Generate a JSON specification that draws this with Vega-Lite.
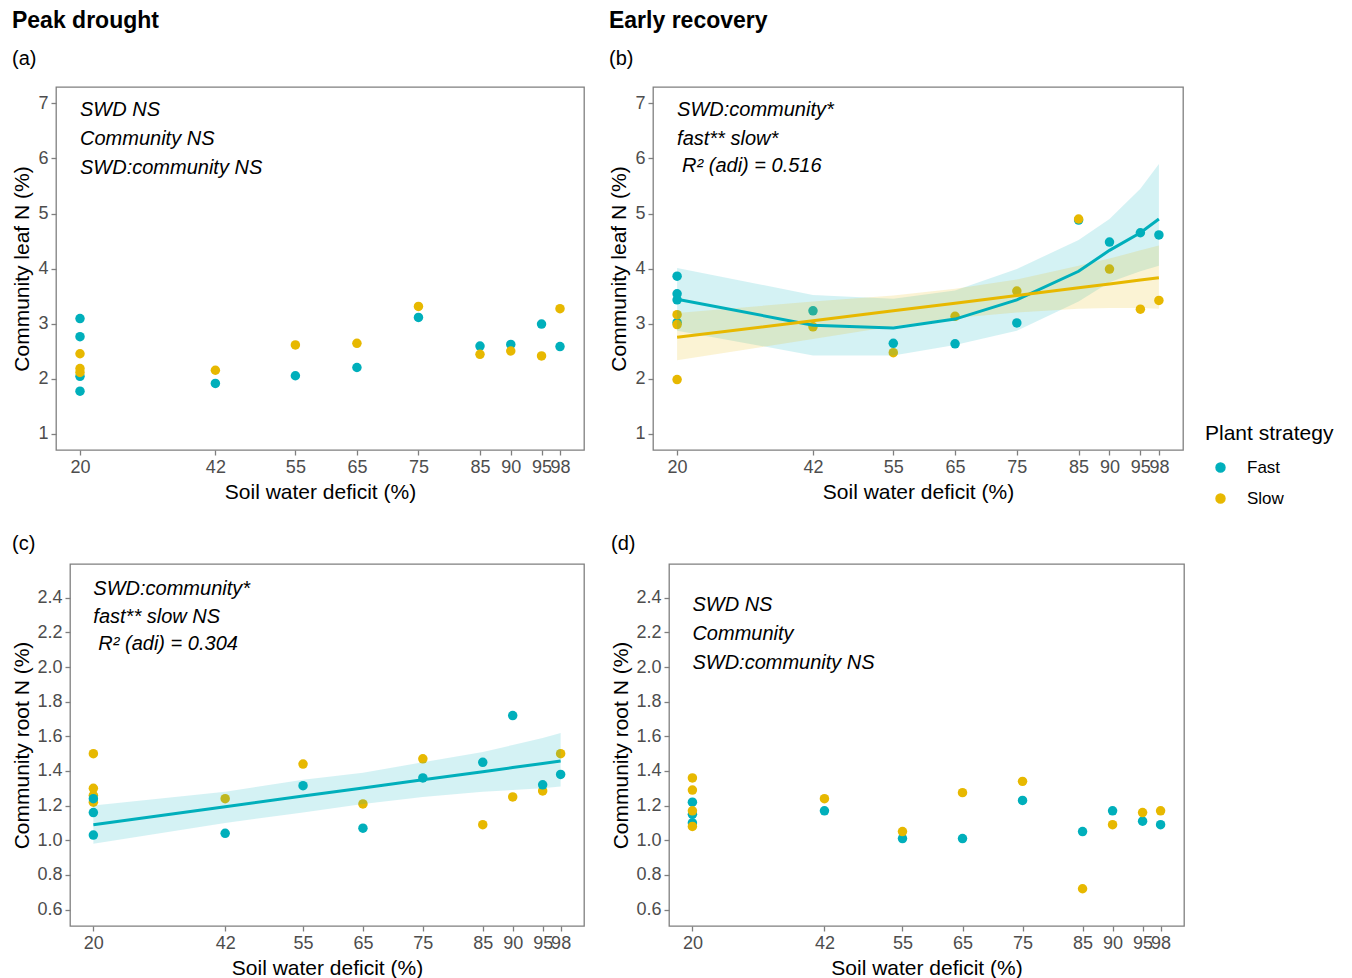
{
  "$schema": "https://vega.github.io/schema/vega-lite/v6.json",
  "background": "white",
  "padding": {"left": 10, "top": 9, "right": 4, "bottom": 0},
  "config": {
    "font": "Liberation Sans",
    "view": {"stroke": "#7f7f7f", "strokeWidth": 1.3},
    "axis": {
      "grid": false,
      "domain": false,
      "tickColor": "#7f7f7f",
      "tickSize": 5,
      "tickWidth": 1.3,
      "labelColor": "#4d4d4d",
      "labelFont": "Liberation Sans",
      "labelFontSize": 18,
      "labelPadding": 3,
      "labelOverlap": false,
      "labelBound": false,
      "labelFlush": false,
      "titleColor": "black",
      "titleFont": "Liberation Sans",
      "titleFontSize": 21,
      "titleFontWeight": "normal"
    },
    "axisX": {"titlePadding": 5},
    "axisY": {"titlePadding": 6},
    "title": {
      "anchor": "start",
      "frame": "bounds",
      "font": "Liberation Sans",
      "fontSize": 23,
      "fontWeight": "bold",
      "color": "black",
      "subtitleFont": "Liberation Sans",
      "subtitleFontSize": 20,
      "subtitleColor": "black",
      "subtitlePadding": 16,
      "offset": 18
    },
    "legend": {
      "titleFont": "Liberation Sans",
      "titleFontSize": 21,
      "titleFontWeight": "normal",
      "titleColor": "black",
      "labelFont": "Liberation Sans",
      "labelFontSize": 17,
      "labelColor": "black",
      "symbolSize": 80,
      "symbolType": "circle",
      "symbolOffset": 7,
      "rowPadding": 13,
      "titlePadding": 15,
      "labelOffset": 18
    }
  },
  "datasets": {
    "pts": [
      {"panel": "a", "strategy": "Fast", "swd": 20, "n": 3.09},
      {"panel": "a", "strategy": "Fast", "swd": 20, "n": 2.76},
      {"panel": "a", "strategy": "Fast", "swd": 20, "n": 2.04},
      {"panel": "a", "strategy": "Fast", "swd": 20, "n": 1.77},
      {"panel": "a", "strategy": "Fast", "swd": 42, "n": 1.91},
      {"panel": "a", "strategy": "Fast", "swd": 55, "n": 2.05},
      {"panel": "a", "strategy": "Fast", "swd": 65, "n": 2.2},
      {"panel": "a", "strategy": "Fast", "swd": 75, "n": 3.11},
      {"panel": "a", "strategy": "Fast", "swd": 85, "n": 2.59},
      {"panel": "a", "strategy": "Fast", "swd": 90, "n": 2.62},
      {"panel": "a", "strategy": "Fast", "swd": 95, "n": 2.99},
      {"panel": "a", "strategy": "Fast", "swd": 98, "n": 2.58},
      {"panel": "a", "strategy": "Slow", "swd": 20, "n": 2.45},
      {"panel": "a", "strategy": "Slow", "swd": 20, "n": 2.18},
      {"panel": "a", "strategy": "Slow", "swd": 20, "n": 2.11},
      {"panel": "a", "strategy": "Slow", "swd": 42, "n": 2.15},
      {"panel": "a", "strategy": "Slow", "swd": 55, "n": 2.61},
      {"panel": "a", "strategy": "Slow", "swd": 65, "n": 2.64},
      {"panel": "a", "strategy": "Slow", "swd": 75, "n": 3.31},
      {"panel": "a", "strategy": "Slow", "swd": 85, "n": 2.44},
      {"panel": "a", "strategy": "Slow", "swd": 90, "n": 2.5},
      {"panel": "a", "strategy": "Slow", "swd": 95, "n": 2.41},
      {"panel": "a", "strategy": "Slow", "swd": 98, "n": 3.27},

      {"panel": "b", "strategy": "Fast", "swd": 20, "n": 3.86},
      {"panel": "b", "strategy": "Fast", "swd": 20, "n": 3.54},
      {"panel": "b", "strategy": "Fast", "swd": 20, "n": 3.43},
      {"panel": "b", "strategy": "Fast", "swd": 20, "n": 3.02},
      {"panel": "b", "strategy": "Fast", "swd": 42, "n": 3.23},
      {"panel": "b", "strategy": "Fast", "swd": 55, "n": 2.64},
      {"panel": "b", "strategy": "Fast", "swd": 65, "n": 2.63},
      {"panel": "b", "strategy": "Fast", "swd": 75, "n": 3.01},
      {"panel": "b", "strategy": "Fast", "swd": 85, "n": 4.88},
      {"panel": "b", "strategy": "Fast", "swd": 90, "n": 4.48},
      {"panel": "b", "strategy": "Fast", "swd": 95, "n": 4.65},
      {"panel": "b", "strategy": "Fast", "swd": 98, "n": 4.61},
      {"panel": "b", "strategy": "Slow", "swd": 20, "n": 3.16},
      {"panel": "b", "strategy": "Slow", "swd": 20, "n": 2.98},
      {"panel": "b", "strategy": "Slow", "swd": 20, "n": 1.98},
      {"panel": "b", "strategy": "Slow", "swd": 42, "n": 2.94},
      {"panel": "b", "strategy": "Slow", "swd": 55, "n": 2.47},
      {"panel": "b", "strategy": "Slow", "swd": 65, "n": 3.13},
      {"panel": "b", "strategy": "Slow", "swd": 75, "n": 3.59},
      {"panel": "b", "strategy": "Slow", "swd": 85, "n": 4.9},
      {"panel": "b", "strategy": "Slow", "swd": 90, "n": 3.99},
      {"panel": "b", "strategy": "Slow", "swd": 95, "n": 3.26},
      {"panel": "b", "strategy": "Slow", "swd": 98, "n": 3.42},

      {"panel": "c", "strategy": "Slow", "swd": 20, "n": 1.5},
      {"panel": "c", "strategy": "Slow", "swd": 20, "n": 1.3},
      {"panel": "c", "strategy": "Slow", "swd": 20, "n": 1.26},
      {"panel": "c", "strategy": "Slow", "swd": 20, "n": 1.22},
      {"panel": "c", "strategy": "Slow", "swd": 42, "n": 1.24},
      {"panel": "c", "strategy": "Slow", "swd": 55, "n": 1.44},
      {"panel": "c", "strategy": "Slow", "swd": 65, "n": 1.21},
      {"panel": "c", "strategy": "Slow", "swd": 75, "n": 1.47},
      {"panel": "c", "strategy": "Slow", "swd": 85, "n": 1.09},
      {"panel": "c", "strategy": "Slow", "swd": 90, "n": 1.25},
      {"panel": "c", "strategy": "Slow", "swd": 95, "n": 1.285},
      {"panel": "c", "strategy": "Slow", "swd": 98, "n": 1.5},
      {"panel": "c", "strategy": "Fast", "swd": 20, "n": 1.24},
      {"panel": "c", "strategy": "Fast", "swd": 20, "n": 1.16},
      {"panel": "c", "strategy": "Fast", "swd": 20, "n": 1.03},
      {"panel": "c", "strategy": "Fast", "swd": 42, "n": 1.04},
      {"panel": "c", "strategy": "Fast", "swd": 55, "n": 1.315},
      {"panel": "c", "strategy": "Fast", "swd": 65, "n": 1.07},
      {"panel": "c", "strategy": "Fast", "swd": 75, "n": 1.36},
      {"panel": "c", "strategy": "Fast", "swd": 85, "n": 1.45},
      {"panel": "c", "strategy": "Fast", "swd": 90, "n": 1.72},
      {"panel": "c", "strategy": "Fast", "swd": 95, "n": 1.32},
      {"panel": "c", "strategy": "Fast", "swd": 98, "n": 1.38},

      {"panel": "d", "strategy": "Slow", "swd": 20, "n": 1.36},
      {"panel": "d", "strategy": "Slow", "swd": 20, "n": 1.29},
      {"panel": "d", "strategy": "Fast", "swd": 20, "n": 1.22},
      {"panel": "d", "strategy": "Fast", "swd": 20, "n": 1.15},
      {"panel": "d", "strategy": "Fast", "swd": 20, "n": 1.1},
      {"panel": "d", "strategy": "Slow", "swd": 20, "n": 1.17},
      {"panel": "d", "strategy": "Slow", "swd": 20, "n": 1.08},
      {"panel": "d", "strategy": "Fast", "swd": 42, "n": 1.17},
      {"panel": "d", "strategy": "Fast", "swd": 55, "n": 1.01},
      {"panel": "d", "strategy": "Fast", "swd": 65, "n": 1.01},
      {"panel": "d", "strategy": "Fast", "swd": 75, "n": 1.23},
      {"panel": "d", "strategy": "Fast", "swd": 85, "n": 1.05},
      {"panel": "d", "strategy": "Fast", "swd": 90, "n": 1.17},
      {"panel": "d", "strategy": "Fast", "swd": 95, "n": 1.11},
      {"panel": "d", "strategy": "Fast", "swd": 98, "n": 1.09},
      {"panel": "d", "strategy": "Slow", "swd": 42, "n": 1.24},
      {"panel": "d", "strategy": "Slow", "swd": 55, "n": 1.05},
      {"panel": "d", "strategy": "Slow", "swd": 65, "n": 1.275},
      {"panel": "d", "strategy": "Slow", "swd": 75, "n": 1.34},
      {"panel": "d", "strategy": "Slow", "swd": 85, "n": 0.72},
      {"panel": "d", "strategy": "Slow", "swd": 90, "n": 1.09},
      {"panel": "d", "strategy": "Slow", "swd": 95, "n": 1.16},
      {"panel": "d", "strategy": "Slow", "swd": 98, "n": 1.17}
    ],
    "fits": [
      {"panel": "b", "strategy": "Fast", "swd": 20, "fit": 3.44, "lo": 2.87, "hi": 4.01},
      {"panel": "b", "strategy": "Fast", "swd": 42, "fit": 2.97, "lo": 2.42, "hi": 3.52},
      {"panel": "b", "strategy": "Fast", "swd": 55, "fit": 2.92, "lo": 2.42, "hi": 3.45},
      {"panel": "b", "strategy": "Fast", "swd": 65, "fit": 3.08, "lo": 2.61, "hi": 3.6},
      {"panel": "b", "strategy": "Fast", "swd": 75, "fit": 3.43, "lo": 2.87, "hi": 3.99},
      {"panel": "b", "strategy": "Fast", "swd": 85, "fit": 3.95, "lo": 3.4, "hi": 4.52},
      {"panel": "b", "strategy": "Fast", "swd": 90, "fit": 4.33, "lo": 3.75, "hi": 4.9},
      {"panel": "b", "strategy": "Fast", "swd": 95, "fit": 4.65, "lo": 3.95, "hi": 5.45},
      {"panel": "b", "strategy": "Fast", "swd": 98, "fit": 4.9, "lo": 4.05, "hi": 5.9},
      {"panel": "b", "strategy": "Slow", "swd": 20, "fit": 2.75, "lo": 2.33, "hi": 3.19},
      {"panel": "b", "strategy": "Slow", "swd": 42, "fit": 3.05, "lo": 2.72, "hi": 3.4},
      {"panel": "b", "strategy": "Slow", "swd": 55, "fit": 3.23, "lo": 2.95, "hi": 3.51},
      {"panel": "b", "strategy": "Slow", "swd": 65, "fit": 3.37, "lo": 3.1, "hi": 3.63},
      {"panel": "b", "strategy": "Slow", "swd": 75, "fit": 3.51, "lo": 3.2, "hi": 3.8},
      {"panel": "b", "strategy": "Slow", "swd": 85, "fit": 3.65, "lo": 3.27, "hi": 4.05},
      {"panel": "b", "strategy": "Slow", "swd": 90, "fit": 3.72, "lo": 3.28, "hi": 4.18},
      {"panel": "b", "strategy": "Slow", "swd": 95, "fit": 3.79, "lo": 3.28, "hi": 4.33},
      {"panel": "b", "strategy": "Slow", "swd": 98, "fit": 3.83, "lo": 3.27, "hi": 4.42},
      {"panel": "c", "strategy": "Fast", "swd": 20, "fit": 1.09, "lo": 0.98, "hi": 1.2},
      {"panel": "c", "strategy": "Fast", "swd": 42, "fit": 1.193, "lo": 1.1, "hi": 1.28},
      {"panel": "c", "strategy": "Fast", "swd": 55, "fit": 1.255, "lo": 1.16, "hi": 1.35},
      {"panel": "c", "strategy": "Fast", "swd": 65, "fit": 1.302, "lo": 1.21, "hi": 1.39},
      {"panel": "c", "strategy": "Fast", "swd": 75, "fit": 1.349, "lo": 1.25, "hi": 1.45},
      {"panel": "c", "strategy": "Fast", "swd": 85, "fit": 1.396, "lo": 1.28, "hi": 1.51},
      {"panel": "c", "strategy": "Fast", "swd": 90, "fit": 1.42, "lo": 1.29, "hi": 1.55},
      {"panel": "c", "strategy": "Fast", "swd": 95, "fit": 1.443, "lo": 1.3, "hi": 1.59},
      {"panel": "c", "strategy": "Fast", "swd": 98, "fit": 1.457, "lo": 1.31, "hi": 1.62}
    ]
  },
  "spacing": 30,
  "vconcat": [
    {
      "spacing": 0,
      "hconcat": [
        {
          "width": 1, "height": 1,
          "view": {"stroke": null},
          "data": {"values": [{}]},
          "mark": {"type": "point", "size": 0, "opacity": 0}
        },
        {
          "spacing": 23,
          "hconcat": [
            {
              "width": 528,
              "height": 363,
              "title": {"text": "Peak drought", "subtitle": "(a)"},
              "layer": [
                {
                  "data": {"name": "pts"},
                  "transform": [{"filter": "datum.panel == 'a'"}],
                  "mark": {"type": "point", "filled": true, "opacity": 1, "size": 90},
                  "encoding": {
                    "x": {"field": "swd", "type": "quantitative", "title": "Soil water deficit (%)",
                          "scale": {"domain": [16.1, 101.9], "nice": false, "zero": false},
                          "axis": {"values": [20, 42, 55, 65, 75, 85, 90, 95, 98]}},
                    "y": {"field": "n", "type": "quantitative", "title": "Community leaf N (%)",
                          "scale": {"domain": [0.7, 7.3], "nice": false, "zero": false},
                          "axis": {"values": [1, 2, 3, 4, 5, 6, 7], "format": "d", "titlePadding": 5}},
                    "color": {"field": "strategy", "type": "nominal",
                              "scale": {"domain": ["Fast", "Slow"], "range": ["#00AFBB", "#E7B800"]},
                              "legend": {"title": "Plant strategy", "orient": "none", "legendX": 1195, "legendY": 336}}
                  }
                },
                {
                  "data": {"values": [{}]},
                  "mark": {"type": "text", "text": ["SWD NS", "Community NS", "SWD:community NS"],
                           "align": "left", "baseline": "alphabetic", "fontStyle": "italic",
                           "fontSize": 20, "lineHeight": 29, "color": "black"},
                  "encoding": {"x": {"datum": 20}, "y": {"datum": 6.77}}
                }
              ]
            },
            {
              "width": 530,
              "height": 363,
              "title": {"text": "Early recovery", "subtitle": "(b)"},
              "layer": [
                {
                  "data": {"name": "pts"},
                  "transform": [{"filter": "datum.panel == 'b'"}],
                  "mark": {"type": "point", "filled": true, "opacity": 1, "size": 90},
                  "encoding": {
                    "x": {"field": "swd", "type": "quantitative", "title": "Soil water deficit (%)",
                          "scale": {"domain": [16.1, 101.9], "nice": false, "zero": false},
                          "axis": {"values": [20, 42, 55, 65, 75, 85, 90, 95, 98]}},
                    "y": {"field": "n", "type": "quantitative", "title": "Community leaf N (%)",
                          "scale": {"domain": [0.7, 7.3], "nice": false, "zero": false},
                          "axis": {"values": [1, 2, 3, 4, 5, 6, 7], "format": "d", "titlePadding": 5}},
                    "color": {"field": "strategy", "type": "nominal"}
                  }
                },
                {
                  "data": {"name": "fits"},
                  "transform": [{"filter": "datum.panel == 'b'"}],
                  "mark": {"type": "area", "opacity": 0.17},
                  "encoding": {
                    "x": {"field": "swd", "type": "quantitative"},
                    "y": {"field": "lo", "type": "quantitative", "stack": null},
                    "y2": {"field": "hi"},
                    "color": {"field": "strategy", "type": "nominal", "legend": null}
                  }
                },
                {
                  "data": {"name": "fits"},
                  "transform": [{"filter": "datum.panel == 'b'"}],
                  "mark": {"type": "line", "strokeWidth": 3},
                  "encoding": {
                    "x": {"field": "swd", "type": "quantitative"},
                    "y": {"field": "fit", "type": "quantitative"},
                    "color": {"field": "strategy", "type": "nominal", "legend": null}
                  }
                },
                {
                  "data": {"values": [{}]},
                  "mark": {"type": "text", "text": ["SWD:community*", "fast** slow*"],
                           "align": "left", "baseline": "alphabetic", "fontStyle": "italic",
                           "fontSize": 20, "lineHeight": 29, "color": "black"},
                  "encoding": {"x": {"datum": 20}, "y": {"datum": 6.78}}
                },
                {
                  "data": {"values": [{}]},
                  "mark": {"type": "text", "text": "R\u00b2 (adi) = 0.516", "dx": 5,
                           "align": "left", "baseline": "alphabetic", "fontStyle": "italic",
                           "fontSize": 20, "color": "black"},
                  "encoding": {"x": {"datum": 20}, "y": {"datum": 5.75}}
                }
              ]
            }
          ]
        }
      ]
    },
    {
      "spacing": 0,
      "hconcat": [
        {
          "width": 1, "height": 1,
          "view": {"stroke": null},
          "data": {"values": [{}]},
          "mark": {"type": "point", "size": 0, "opacity": 0}
        },
        {
          "spacing": 25,
          "hconcat": [
            {
              "width": 514,
              "height": 362,
              "title": {"text": "(c)", "fontWeight": "normal", "fontSize": 20, "offset": 10},
              "layer": [
                {
                  "data": {"name": "pts"},
                  "transform": [{"filter": "datum.panel == 'c'"}],
                  "mark": {"type": "point", "filled": true, "opacity": 1, "size": 90},
                  "encoding": {
                    "x": {"field": "swd", "type": "quantitative", "title": "Soil water deficit (%)",
                          "scale": {"domain": [16.1, 101.9], "nice": false, "zero": false},
                          "axis": {"values": [20, 42, 55, 65, 75, 85, 90, 95, 98]}},
                    "y": {"field": "n", "type": "quantitative", "title": "Community root N (%)",
                          "scale": {"domain": [0.505, 2.595], "nice": false, "zero": false},
                          "axis": {"values": [0.6, 0.8, 1.0, 1.2, 1.4, 1.6, 1.8, 2.0, 2.2, 2.4], "format": ".1f", "titlePadding": 4}},
                    "color": {"field": "strategy", "type": "nominal"}
                  }
                },
                {
                  "data": {"name": "fits"},
                  "transform": [{"filter": "datum.panel == 'c'"}],
                  "mark": {"type": "area", "opacity": 0.17},
                  "encoding": {
                    "x": {"field": "swd", "type": "quantitative"},
                    "y": {"field": "lo", "type": "quantitative", "stack": null},
                    "y2": {"field": "hi"},
                    "color": {"field": "strategy", "type": "nominal", "legend": null}
                  }
                },
                {
                  "data": {"name": "fits"},
                  "transform": [{"filter": "datum.panel == 'c'"}],
                  "mark": {"type": "line", "strokeWidth": 3},
                  "encoding": {
                    "x": {"field": "swd", "type": "quantitative"},
                    "y": {"field": "fit", "type": "quantitative"},
                    "color": {"field": "strategy", "type": "nominal", "legend": null}
                  }
                },
                {
                  "data": {"values": [{}]},
                  "mark": {"type": "text", "text": ["SWD:community*", "fast** slow NS"],
                           "align": "left", "baseline": "alphabetic", "fontStyle": "italic",
                           "fontSize": 20, "lineHeight": 28, "color": "black"},
                  "encoding": {"x": {"datum": 20}, "y": {"datum": 2.416}}
                },
                {
                  "data": {"values": [{}]},
                  "mark": {"type": "text", "text": "R\u00b2 (adi) = 0.304", "dx": 5,
                           "align": "left", "baseline": "alphabetic", "fontStyle": "italic",
                           "fontSize": 20, "color": "black"},
                  "encoding": {"x": {"datum": 20}, "y": {"datum": 2.098}}
                }
              ]
            },
            {
              "width": 515,
              "height": 362,
              "title": {"text": "(d)", "fontWeight": "normal", "fontSize": 20, "offset": 10},
              "layer": [
                {
                  "data": {"name": "pts"},
                  "transform": [{"filter": "datum.panel == 'd'"}],
                  "mark": {"type": "point", "filled": true, "opacity": 1, "size": 90},
                  "encoding": {
                    "x": {"field": "swd", "type": "quantitative", "title": "Soil water deficit (%)",
                          "scale": {"domain": [16.1, 101.9], "nice": false, "zero": false},
                          "axis": {"values": [20, 42, 55, 65, 75, 85, 90, 95, 98]}},
                    "y": {"field": "n", "type": "quantitative", "title": "Community root N (%)",
                          "scale": {"domain": [0.505, 2.595], "nice": false, "zero": false},
                          "axis": {"values": [0.6, 0.8, 1.0, 1.2, 1.4, 1.6, 1.8, 2.0, 2.2, 2.4], "format": ".1f", "titlePadding": 4}},
                    "color": {"field": "strategy", "type": "nominal"}
                  }
                },
                {
                  "data": {"values": [{}]},
                  "mark": {"type": "text", "text": ["SWD NS", "Community", "SWD:community NS"],
                           "align": "left", "baseline": "alphabetic", "fontStyle": "italic",
                           "fontSize": 20, "lineHeight": 29, "color": "black"},
                  "encoding": {"x": {"datum": 20}, "y": {"datum": 2.322}}
                }
              ]
            }
          ]
        }
      ]
    }
  ]
}
